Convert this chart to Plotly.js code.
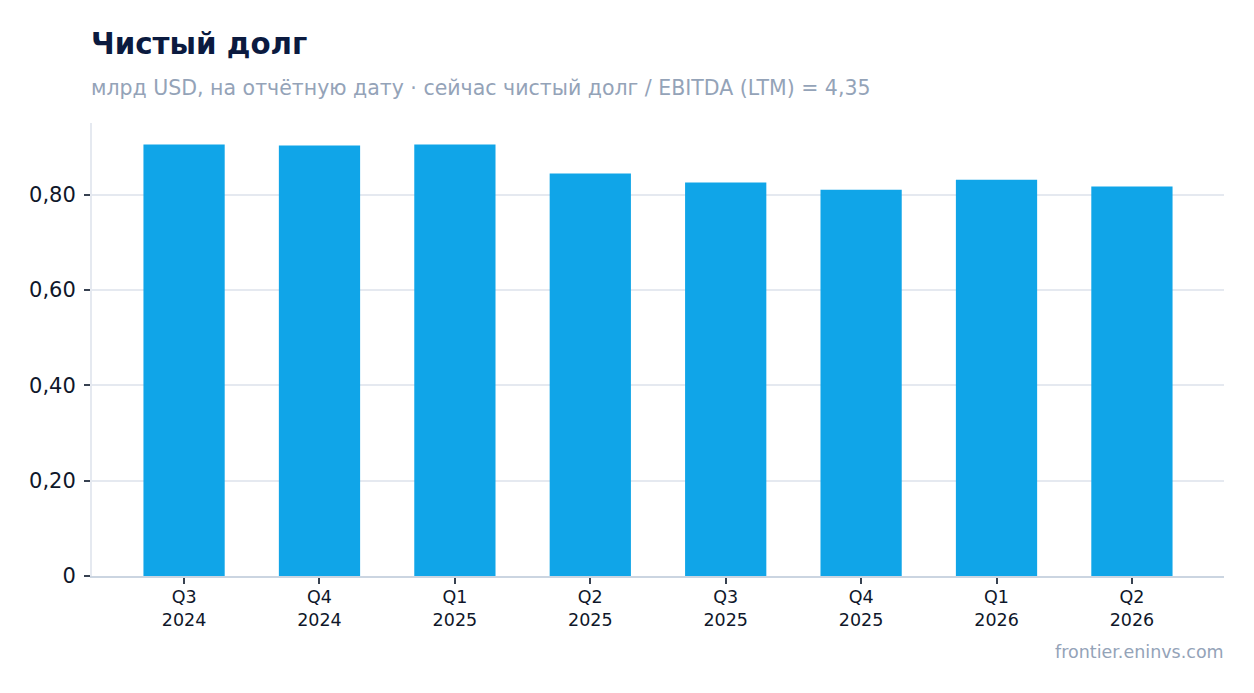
<!DOCTYPE html>
<html>
<head>
<meta charset="utf-8">
<script src="https://cdn.plot.ly/plotly-3.0.1.min.js"></script>
<style>
html,body{margin:0;padding:0;background:#fff;}
#chart{width:1254px;height:693px;}
</style>
</head>
<body>
<div id="chart"></div>
<script>
const categories = ["Q3<br>2024","Q4<br>2024","Q1<br>2025","Q2<br>2025","Q3<br>2025","Q4<br>2025","Q1<br>2026","Q2<br>2026"];
const netDebt = [0.905, 0.903, 0.905, 0.844, 0.825, 0.810, 0.831, 0.817];
const yTickVals = [0, 0.2, 0.4, 0.6, 0.8];
const yTickText = ["0", "0,20", "0,40", "0,60", "0,80"];

const font = "DejaVu Sans, sans-serif";

const trace = {
  type: "bar",
  x: categories,
  y: netDebt,
  marker: {color: "#10a5e8"},
  hoverinfo: "none"
};

const plotH = 693 - 123 - 117;

const layout = {
  width: 1254,
  height: 693,
  margin: {l: 92, r: 30, t: 123, b: 117},
  paper_bgcolor: "#fff",
  plot_bgcolor: "#fff",
  bargap: 0.4,
  showlegend: false,
  font: {family: font, color: "#0f172a"},
  xaxis: {
    type: "category",
    range: [-0.68, 7.68],
    showgrid: false,
    showline: true,
    linecolor: "#cbd5e1",
    linewidth: 2,
    ticks: "outside",
    ticklen: 6,
    tickwidth: 2,
    tickcolor: "#374151",
    ticklabelstandoff: -2,
    tickfont: {family: font, size: 17.5, color: "#0f172a"},
    zeroline: false,
    fixedrange: true
  },
  yaxis: {
    range: [0, 0.95],
    tickvals: yTickVals,
    ticktext: yTickText,
    showgrid: true,
    gridcolor: "#e5e9f0",
    gridwidth: 2,
    showline: true,
    linecolor: "#e5e9f0",
    linewidth: 2,
    ticks: "outside",
    ticklen: 6,
    tickwidth: 2,
    tickcolor: "#374151",
    ticklabelstandoff: 4,
    tickfont: {family: font, size: 21, color: "#0f172a"},
    zeroline: false,
    fixedrange: true
  },
  annotations: [
    {
      text: "<b>Чистый долг</b>",
      xref: "paper", yref: "paper",
      x: 0, y: 1 + (123 - 44) / plotH, xanchor: "left", yanchor: "middle",
      xshift: -3,
      showarrow: false,
      font: {family: font, size: 29.3, color: "#0b1a3f"}
    },
    {
      text: "млрд USD, на отчётную дату · сейчас чистый долг / EBITDA (LTM) = 4,35",
      xref: "paper", yref: "paper",
      x: 0, y: 1 + (123 - 88) / plotH, xanchor: "left", yanchor: "middle",
      xshift: -3,
      showarrow: false,
      font: {family: font, size: 20.5, color: "#94a3b8"}
    },
    {
      text: "frontier.eninvs.com",
      xref: "paper", yref: "paper",
      x: 1, y: -(652 - 576) / plotH, xanchor: "right", yanchor: "middle",
      xshift: 2,
      showarrow: false,
      font: {family: font, size: 17.5, color: "#94a3b8"}
    }
  ]
};

Plotly.newPlot("chart", [trace], layout, {displayModeBar: false, staticPlot: true});
</script>
</body>
</html>
